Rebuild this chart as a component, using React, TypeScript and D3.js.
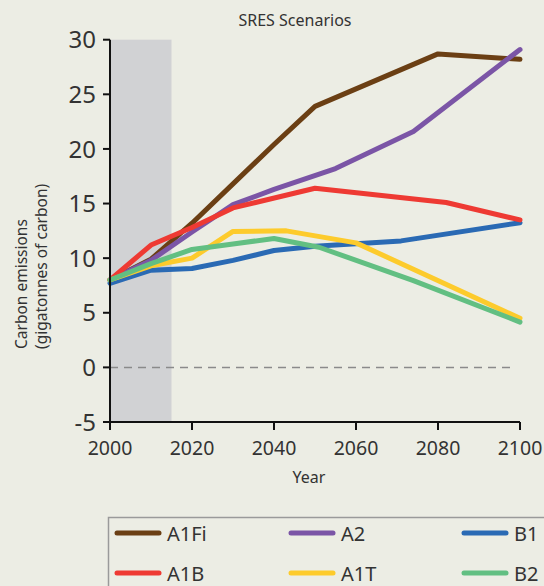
import React from "react";
import * as d3 from "d3";

const W = 544;
const H = 586;

const xTicks = [2000, 2020, 2040, 2060, 2080, 2100];
const yTicks = [-5, 0, 5, 10, 15, 20, 25, 30];

const a1fiYears = [2000, 2010, 2020, 2030, 2040, 2050, 2080, 2100];
const a1fiValues = [8.0, 9.9, 13.2, 16.8, 20.4, 23.9, 28.7, 28.2];

const a2Years = [2000, 2010, 2020, 2030, 2040, 2055, 2074, 2100];
const a2Values = [8.0, 9.8, 12.4, 14.9, 16.3, 18.2, 21.6, 29.1];

const b1Years = [2000, 2010, 2020, 2030, 2040, 2050, 2071, 2100];
const b1Values = [7.7, 8.9, 9.05, 9.8, 10.7, 11.1, 11.58, 13.25];

const a1bYears = [2000, 2010, 2020, 2030, 2050, 2082, 2100];
const a1bValues = [8.0, 11.2, 12.8, 14.6, 16.4, 15.1, 13.5];

const a1tYears = [2000, 2010, 2020, 2030, 2043, 2060, 2100];
const a1tValues = [8.0, 9.3, 10.0, 12.45, 12.5, 11.4, 4.5];

const b2Years = [2000, 2010, 2020, 2030, 2040, 2051, 2074, 2100];
const b2Values = [8.0, 9.5, 10.8, 11.3, 11.8, 11.0, 7.95, 4.15];

const seriesNames = ["A1Fi", "A2", "B1", "A1B", "A1T", "B2"];
const seriesColors = ["#6B3F14", "#7B55A6", "#2A6AB4", "#EE3A33", "#FDCB2C", "#62BF82"];
const seriesYears = [a1fiYears, a2Years, b1Years, a1bYears, a1tYears, b2Years];
const seriesValues = [a1fiValues, a2Values, b1Values, a1bValues, a1tValues, b2Values];

const historicalEnd = 2015;

const FONT = "'Noto Sans', 'Open Sans', sans-serif";

export default function App() {
  const left = 110;
  const right = 520;
  const top = 39.7;
  const bottom = 422;

  const x = d3.scaleLinear().domain([2000, 2100]).range([left, right]);
  const y = d3.scaleLinear().domain([-5, 30]).range([bottom, top]);

  const line = d3
    .line<[number, number]>()
    .x((d) => x(d[0]))
    .y((d) => y(d[1]))
    .curve(d3.curveLinear);

  const legendCols = [117, 291, 464];
  const legendRows = [533, 573];

  return (
    <svg
      width={W}
      height={H}
      style={{ position: "absolute", left: 0, top: 0, background: "#ECEDE4" }}
      fontFamily={FONT}
    >
      <rect x={0} y={0} width={W} height={H} fill="#ECEDE4" />
      <text x={295} y={26} textAnchor="middle" fontSize={16} fill="#333">
        SRES Scenarios
      </text>

      {/* historical band */}
      <rect
        x={x(2000)}
        y={y(30)}
        width={x(historicalEnd) - x(2000)}
        height={y(-5) - y(30)}
        fill="#D1D2D4"
      />

      {/* zero line */}
      <line
        x1={x(2000)}
        x2={x(2098.5)}
        y1={y(0)}
        y2={y(0)}
        stroke="#8A8A8A"
        strokeWidth={1.5}
        strokeDasharray="8,6"
      />

      {/* series */}
      {seriesNames.map((name, i) => {
        const pts = seriesYears[i].map((yr, j) => [yr, seriesValues[i][j]] as [number, number]);
        return (
          <path
            key={name}
            d={line(pts) || ""}
            fill="none"
            stroke={seriesColors[i]}
            strokeWidth={5}
            strokeLinejoin="round"
            strokeLinecap="round"
          />
        );
      })}

      {/* y axis */}
      <line x1={left} x2={left} y1={y(30)} y2={bottom + 8} stroke="#111" strokeWidth={2} />
      {yTicks.map((t) => (
        <g key={"y" + t}>
          <line x1={left - 7} x2={left} y1={y(t)} y2={y(t)} stroke="#111" strokeWidth={2} />
          <text
            x={left - 14}
            y={y(t)}
            dy="0.36em"
            textAnchor="end"
            fontSize={24}
            fill="#333"
          >
            {t}
          </text>
        </g>
      ))}

      {/* x axis */}
      <line x1={left} x2={right} y1={bottom} y2={bottom} stroke="#111" strokeWidth={2} />
      {xTicks.map((t) => (
        <g key={"x" + t}>
          <line x1={x(t)} x2={x(t)} y1={bottom} y2={bottom + 8} stroke="#111" strokeWidth={2} />
          <text x={x(t)} y={455} textAnchor="middle" fontSize={19.5} fill="#333">
            {t}
          </text>
        </g>
      ))}

      <text x={309} y={483} textAnchor="middle" fontSize={16} fill="#333">
        Year
      </text>

      <text
        transform="translate(27,349) rotate(-90)"
        textAnchor="start"
        fontSize={15.5}
        fill="#333"
      >
        Carbon emissions
      </text>
      <text
        transform="translate(47,349) rotate(-90)"
        textAnchor="start"
        fontSize={15.5}
        fill="#333"
      >
        (gigatonnes of carbon)
      </text>

      {/* legend */}
      <rect
        x={108.5}
        y={517.5}
        width={W}
        height={H}
        fill="none"
        stroke="#9A9A9A"
        strokeWidth={1.5}
      />
      {seriesNames.map((name, i) => {
        const col = i % 3;
        const row = Math.floor(i / 3);
        const lx = legendCols[col];
        const ly = legendRows[row];
        return (
          <g key={"leg" + name}>
            <line
              x1={lx}
              x2={lx + 42}
              y1={ly}
              y2={ly}
              stroke={seriesColors[i]}
              strokeWidth={5}
              strokeLinecap="round"
            />
            <text x={lx + 50} y={ly + 8} fontSize={20} fill="#333">
              {name}
            </text>
          </g>
        );
      })}
    </svg>
  );
}
